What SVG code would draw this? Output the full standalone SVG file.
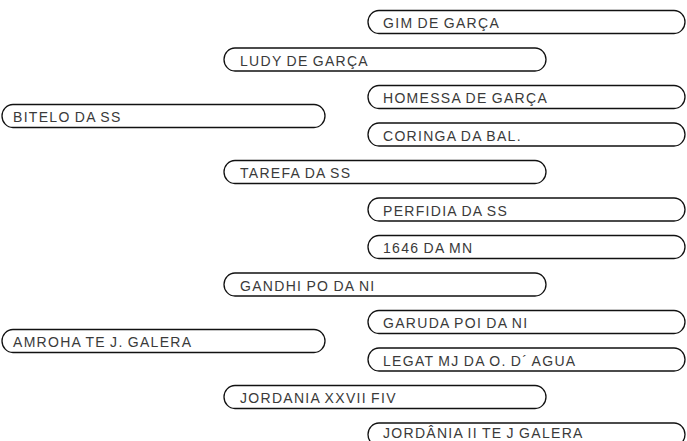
<svg xmlns="http://www.w3.org/2000/svg" width="687" height="441" viewBox="0 0 687 441">
<defs>
<style>
.b{fill:#fff;stroke:#111;stroke-width:1.3}
.t{font-family:"Liberation Sans",Arial,sans-serif;font-size:14px;fill:#3a3a3a;letter-spacing:1.3px;word-spacing:-1px}
</style>
<path id="g1" d="M12,-11.5 H313 A11,11.5 0 0 1 313,11.5 H12 A11,11.5 0 0 1 12,-11.5 Z"/>
<path id="g2" d="M12,-11.5 H312 A11,11.5 0 0 1 312,11.5 H12 A11,11.5 0 0 1 12,-11.5 Z"/>
<path id="g3" d="M12,-11.5 H307 A11,11.5 0 0 1 307,11.5 H12 A11,11.5 0 0 1 12,-11.5 Z"/>
</defs>
<rect width="687" height="441" fill="#fff"/>
<g id="connectors"></g>
<g id="n-gim" transform="translate(367,22)"><use href="#g3" class="b"/><text class="t" x="16" y="6">GIM DE GARÇA</text></g>
<g id="n-ludy" transform="translate(223,59.5)"><use href="#g2" class="b"/><text class="t" x="17" y="6">LUDY DE GARÇA</text></g>
<g id="n-homessa" transform="translate(367,97)"><use href="#g3" class="b"/><text class="t" x="16" y="6">HOMESSA DE GARÇA</text></g>
<g id="n-bitelo" transform="translate(1,116)"><use href="#g1" class="b"/><text class="t" x="12" y="6">BITELO DA SS</text></g>
<g id="n-coringa" transform="translate(367,134.5)"><use href="#g3" class="b"/><text class="t" x="16" y="6">CORINGA DA BAL.</text></g>
<g id="n-tarefa" transform="translate(223,172)"><use href="#g2" class="b"/><text class="t" x="17" y="6">TAREFA DA SS</text></g>
<g id="n-perfidia" transform="translate(367,209.5)"><use href="#g3" class="b"/><text class="t" x="16" y="6">PERFIDIA DA SS</text></g>
<g id="n-1646" transform="translate(367,247)"><use href="#g3" class="b"/><text class="t" x="16" y="6">1646 DA MN</text></g>
<g id="n-gandhi" transform="translate(223,284.5)"><use href="#g2" class="b"/><text class="t" x="17" y="6">GANDHI PO DA NI</text></g>
<g id="n-garuda" transform="translate(367,322)"><use href="#g3" class="b"/><text class="t" x="16" y="6">GARUDA POI DA NI</text></g>
<g id="n-amroha" transform="translate(1,341)"><use href="#g1" class="b"/><text class="t" x="12" y="6">AMROHA TE J. GALERA</text></g>
<g id="n-legat" transform="translate(367,359.5)"><use href="#g3" class="b"/><text class="t" x="16" y="6">LEGAT MJ DA O. D´ AGUA</text></g>
<g id="n-jordania27" transform="translate(223,397)"><use href="#g2" class="b"/><text class="t" x="17" y="6">JORDANIA XXVII FIV</text></g>
<g id="n-jordania2" transform="translate(367,434.5)"><use href="#g3" class="b"/><text class="t" x="16" y="3">JORDÂNIA II TE J GALERA</text></g>
</svg>
